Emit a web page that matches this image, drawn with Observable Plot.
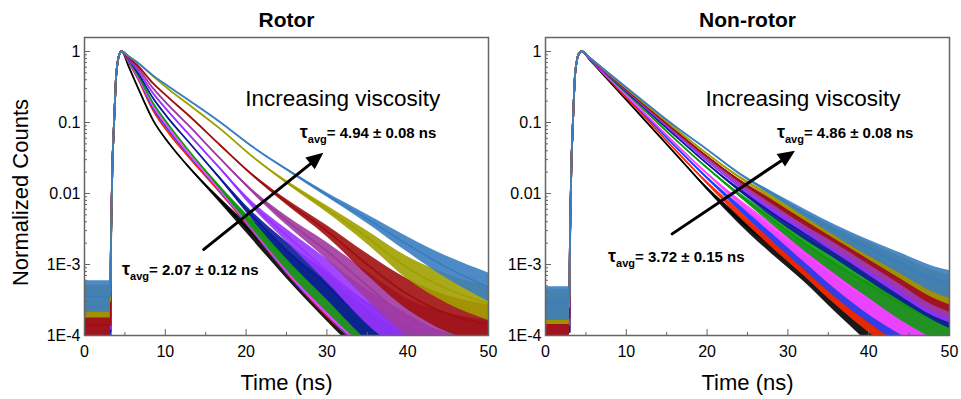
<!DOCTYPE html>
<html><head><meta charset="utf-8">
<script src="https://cdn.jsdelivr.net/npm/d3@7"></script>
<script src="https://cdn.jsdelivr.net/npm/@observablehq/plot@0.6"></script>
<style>
body{margin:0;background:#fff;}
#wrap{position:relative;width:961px;height:399px;overflow:hidden;background:#fff;}
#wrap svg{position:absolute;top:0;overflow:visible;}
</style></head><body><div id="wrap"></div>
<script>
// ---- Data (log10 of normalized counts) ----
const seriesColors = ["#000000","#ff2a00","#1f3fff","#ff44ff","#0b9a0b","#0a1a9a","#9933ff","#a03aa0","#a00f0f","#a0a000","#3a7dc0"];

const rotorTimes = [4.6, 5.5, 6.5, 8.5, 10.5, 12.7, 16.8, 20.9, 25, 30, 35, 40, 45, 50];
const rotor1  = [0, -0.22, -0.48, -0.97, -1.30, -1.60, -2.10, -2.58, -3.04, -3.56, -4.05, -4.5, -4.9, -5.3];
const rotor2  = [0, -0.16, -0.36, -0.83, -1.16, -1.46, -1.98, -2.49, -2.99, -3.51, -3.97, -4.4, -4.8, -5.2];
const rotor3  = [0, -0.15, -0.34, -0.80, -1.12, -1.43, -1.96, -2.48, -2.98, -3.50, -3.95, -4.35, -4.75, -5.1];
const rotor4  = [0, -0.14, -0.33, -0.77, -1.09, -1.41, -1.95, -2.47, -2.97, -3.49, -3.93, -4.3, -4.7, -5.0];
const rotor5  = [0, -0.13, -0.31, -0.73, -1.05, -1.37, -1.92, -2.45, -2.94, -3.45, -3.9, -4.25, -4.6, -4.9];
const rotor6  = [0, -0.12, -0.28, -0.66, -0.96, -1.25, -1.79, -2.33, -2.80, -3.30, -3.8, -4.15, -4.5, -4.8];
const rotor7  = [0, -0.11, -0.25, -0.59, -0.86, -1.14, -1.65, -2.17, -2.59, -3.09, -3.6, -4.0, -4.35, -4.7];
const rotor8  = [0, -0.10, -0.22, -0.52, -0.77, -1.02, -1.51, -1.98, -2.38, -2.81, -3.3, -3.75, -3.98, -4.1];
const rotor9  = [0, -0.09, -0.19, -0.45, -0.66, -0.88, -1.32, -1.75, -2.12, -2.53, -3.0, -3.42, -3.70, -3.84];
const rotor10 = [0, -0.07, -0.15, -0.35, -0.54, -0.73, -1.09, -1.49, -1.84, -2.22, -2.62, -3.05, -3.35, -3.55];
const rotor11 = [0, -0.07, -0.15, -0.34, -0.50, -0.67, -0.995, -1.35, -1.66, -2.02, -2.36, -2.72, -3.05, -3.32];
const rotorBaseline = [-4.05, -4.0, -4.0, -3.95, -3.95, -3.95, -3.9, -3.85, -3.85, -3.52, -3.45];
const rotorRiseTimes = [3.25, 3.35, 3.45, 3.58, 3.75, 3.9, 4.1, 4.35];
const rotorBaselineEnd = 3.2;

const nonrotorTimes = [4.5, 5.5, 8, 12, 16, 20, 24, 28, 32, 36, 40, 44, 48, 50];
const nonrotor1  = [0, -0.12, -0.43, -0.93, -1.43, -1.93, -2.37, -2.74, -3.08, -3.46, -3.83, -4.2, -4.55, -4.7];
const nonrotor2  = [0, -0.115, -0.41, -0.89, -1.38, -1.85, -2.28, -2.66, -3.01, -3.37, -3.70, -3.98, -4.2, -4.3];
const nonrotor3  = [0, -0.11, -0.40, -0.86, -1.33, -1.78, -2.20, -2.58, -2.93, -3.28, -3.58, -3.85, -4.05, -4.15];
const nonrotor4  = [0, -0.105, -0.39, -0.84, -1.29, -1.72, -2.12, -2.49, -2.84, -3.18, -3.48, -3.73, -3.95, -4.05];
const nonrotor5  = [0, -0.10, -0.37, -0.80, -1.23, -1.64, -2.02, -2.37, -2.70, -3.00, -3.28, -3.55, -3.78, -3.88];
const nonrotor6  = [0, -0.10, -0.36, -0.77, -1.18, -1.58, -1.95, -2.27, -2.56, -2.81, -3.07, -3.32, -3.55, -3.65];
const nonrotor7  = [0, -0.095, -0.35, -0.75, -1.15, -1.54, -1.90, -2.21, -2.48, -2.74, -3.0, -3.26, -3.5, -3.58];
const nonrotor8  = [0, -0.095, -0.35, -0.74, -1.13, -1.51, -1.86, -2.16, -2.43, -2.70, -2.95, -3.2, -3.45, -3.52];
const nonrotor9  = [0, -0.09, -0.34, -0.73, -1.11, -1.48, -1.82, -2.11, -2.38, -2.62, -2.87, -3.12, -3.37, -3.45];
const nonrotor10 = [0, -0.09, -0.33, -0.71, -1.08, -1.44, -1.77, -2.05, -2.32, -2.57, -2.81, -3.05, -3.28, -3.36];
const nonrotor11 = [0, -0.09, -0.32, -0.69, -1.05, -1.38, -1.72, -2.0, -2.27, -2.53, -2.77, -2.99, -3.21, -3.28];
const nonrotorBaseline = [-3.95, -3.95, -3.95, -3.95, -3.95, -3.95, -3.85, -3.8, -3.75, -3.6, -3.55];
const nonrotorRiseTimes = [3.0, 3.1, 3.2, 3.32, 3.48, 3.63, 3.85, 4.15];
const nonrotorBaselineEnd = 2.95;

const riseLog = [-3.0, -2.2, -1.6, -1.21, -0.75, -0.37, -0.15, -0.03];

// noise envelope half-width (decades) read at several count levels
const noiseLevel = [-1.5, -2, -2.5, -3, -3.5, -4, -4.5];
const noiseHalfWidth = [0.008, 0.028, 0.075, 0.15, 0.23, 0.3, 0.34];

// axes
const xMajorTicks = [0, 10, 20, 30, 40, 50];
const xMinorTicks = [5, 15, 25, 35, 45];
const yMajorTicks = [1e-4, 1e-3, 1e-2, 1e-1, 1];
const yTickLabels = ["1E-4", "1E-3", "0.01", "0.1", "1"];

const panelTitles = ["Rotor", "Non-rotor"];
const xLabel = "Time (ns)";
const yLabel = "Normalized Counts";
const annotText = "Increasing viscosity";
const rotorTau = ["4.94 ± 0.08 ns", "2.07 ± 0.12 ns"];
const nonrotorTau = ["4.86 ± 0.08 ns", "3.72 ± 0.15 ns"];

// ---- Build ----
const FONT = '"Liberation Sans", Arial, sans-serif';
const noise = d3.scaleLinear().domain(noiseLevel).range(noiseHalfWidth).clamp(true);
const yMinorTicks = [];
for (let k = -4; k <= 0; k++) for (let m = 2; m <= 9; m++) { const v = m * 10 ** k; if (v < 1.5) yMinorTicks.push(v); }

function buildCurve(times, logs, base, riseT, baseEnd) {
  const pts = [{t: 0, L: base}, {t: baseEnd, L: base}];
  riseT.forEach((t, i) => pts.push({t, L: riseLog[i]}));
  times.forEach((t, i) => pts.push({t, L: logs[i]}));
  return pts.map(p => { const hw = noise(p.L); return {t: p.t, y: 10 ** p.L, lo: 10 ** (p.L - hw), hi: 10 ** (p.L + hw)}; });
}

function panel({left, width, marginLeft, marginRight, title, series, times, baseline, riseT, baseEnd, withYLabel, arrow, annotX, taus}) {
  const marks = [];
  series.forEach((s, i) => {
    const c = buildCurve(times, s, baseline[i], riseT, baseEnd);
    marks.push(Plot.areaY(c, {x: "t", y1: "lo", y2: "hi", fill: seriesColors[i], fillOpacity: 0.9, curve: "monotone-x", clip: true}));
    marks.push(Plot.line(c, {x: "t", y: "y", stroke: seriesColors[i], strokeWidth: 1.8, curve: "monotone-x", clip: true}));
  });
  marks.push(
    Plot.frame({stroke: "#666", strokeWidth: 1.5}),
    Plot.axisX({ticks: xMajorTicks, tickSize: -6, tickPadding: 16, tickFormat: d => String(d), stroke: "#666", fill: "#000", label: null, fontSize: 16}),
    Plot.axisX({ticks: xMinorTicks, tickSize: -3, tickPadding: 16, tickFormat: () => "", stroke: "#666", label: null}),
    Plot.axisY({ticks: yMajorTicks, tickSize: -6, tickPadding: 10, tickFormat: d => yTickLabels[yMajorTicks.indexOf(d)], stroke: "#666", fill: "#000", label: null, fontSize: 16}),
    Plot.axisY({ticks: yMinorTicks, tickSize: -3, tickPadding: 10, tickFormat: () => "", stroke: "#666", label: null}),
    Plot.text([title], {text: d => d, frameAnchor: "top", lineAnchor: "middle", textAnchor: "middle", dy: -17, fontSize: 21, fontWeight: "bold", fill: "#000"}),
    Plot.text([xLabel], {text: d => d, frameAnchor: "bottom", lineAnchor: "middle", textAnchor: "middle", dy: 47, fontSize: 22, fill: "#000"}),
    Plot.text([annotText], {text: d => d, x: annotX, y: 0.218, textAnchor: "start", fontSize: 22.5, fill: "#000"}),
    Plot.arrow([arrow], {x1: "x1", y1: "y1", x2: "x2", y2: "y2", stroke: "#000", strokeWidth: 3, headLength: 0, insetEnd: 12})
  );
  if (withYLabel) marks.push(Plot.text([yLabel], {text: d => d, frameAnchor: "left", textAnchor: "middle", lineAnchor: "middle", dx: -64, dy: 6, rotate: -90, fontSize: 22, fill: "#000"}));
  const svg = Plot.plot({
    width, height: 399, marginLeft, marginRight, marginTop: 37, marginBottom: 64,
    x: {domain: [0, 50]},
    y: {type: "log", domain: [1e-4, 1.575]},
    style: {fontFamily: FONT, fontSize: "16px", color: "#000", background: "transparent", overflow: "visible"},
    marks
  });
  svg.style.left = left + "px";
  const xs = svg.scale("x"), ys = svg.scale("y");
  // filled arrow head at the arrow tip, placed through the plot's scales
  const sx = xs.apply(arrow.x1), sy = ys.apply(arrow.y1), ex = xs.apply(arrow.x2), ey = ys.apply(arrow.y2);
  const len = Math.hypot(ex - sx, ey - sy), ux = (ex - sx) / len, uy = (ey - sy) / len;
  const hl = 17, hw = 7.5;
  const bx = ex - ux * hl, by = ey - uy * hl;
  d3.select(svg).append("path")
    .attr("d", `M${ex},${ey}L${bx - uy * hw},${by + ux * hw}L${bx + uy * hw},${by - ux * hw}Z`)
    .attr("fill", "#000");
  taus.forEach(({t, v, text}) => {
    const tx = d3.select(svg).append("text")
      .attr("x", xs.apply(t)).attr("y", ys.apply(v)).attr("text-anchor", "start")
      .attr("font-family", FONT).attr("font-weight", "bold").attr("font-size", 15).attr("fill", "#000");
    tx.append("tspan").attr("font-size", 18).text("τ");
    tx.append("tspan").attr("font-size", 11).attr("dy", 5).text("avg");
    tx.append("tspan").attr("dy", -5).text("= " + text);
  });
  document.getElementById("wrap").appendChild(svg);
}

panel({
  left: 0, width: 492, marginLeft: 84, marginRight: 4, title: panelTitles[0],
  series: [rotor1, rotor2, rotor3, rotor4, rotor5, rotor6, rotor7, rotor8, rotor9, rotor10, rotor11],
  times: rotorTimes, baseline: rotorBaseline, riseT: rotorRiseTimes, baseEnd: rotorBaselineEnd,
  withYLabel: true,
  arrow: {x1: 14.77, y1: 0.00163, x2: 29.62, y2: 0.037},
  annotX: 19.9,
  taus: [{t: 26.7, v: 10 ** -1.225, text: rotorTau[0]}, {t: 4.7, v: 10 ** -3.155, text: rotorTau[1]}]
});
panel({
  left: 492, width: 469, marginLeft: 53, marginRight: 12, title: panelTitles[1],
  series: [nonrotor1, nonrotor2, nonrotor3, nonrotor4, nonrotor5, nonrotor6, nonrotor7, nonrotor8, nonrotor9, nonrotor10, nonrotor11],
  times: nonrotorTimes, baseline: nonrotorBaseline, riseT: nonrotorRiseTimes, baseEnd: nonrotorBaselineEnd,
  withYLabel: false,
  arrow: {x1: 15.68, y1: 0.0027, x2: 30.94, y2: 0.0394},
  annotX: 19.8,
  taus: [{t: 28.7, v: 10 ** -1.225, text: nonrotorTau[0]}, {t: 7.8, v: 10 ** -2.97, text: nonrotorTau[1]}]
});
</script></body></html>
